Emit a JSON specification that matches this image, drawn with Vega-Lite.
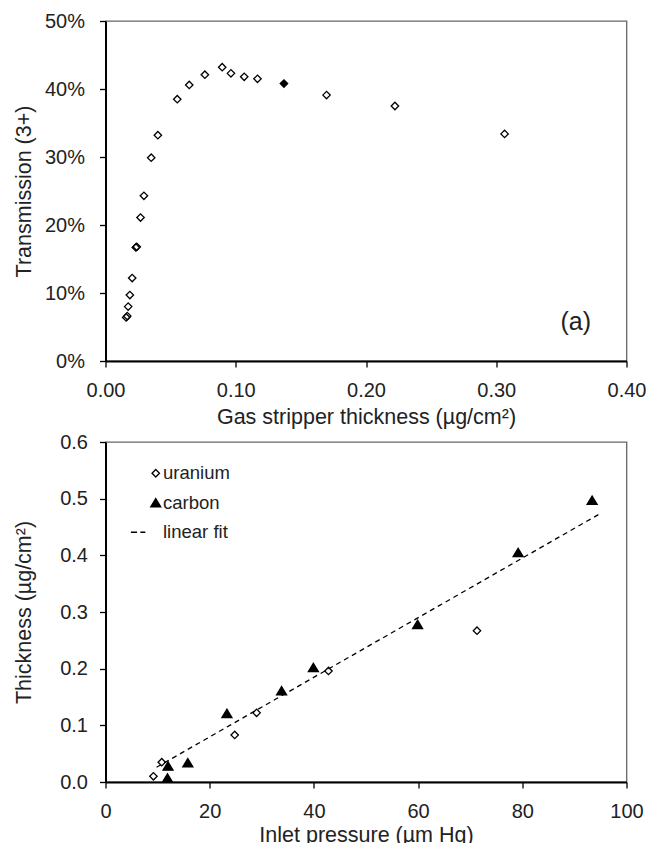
{
  "$schema": "https://vega.github.io/schema/vega-lite/v6.json",
  "padding": {"left": 12.5, "top": 10, "right": 0, "bottom": 0},
  "spacing": 2,
  "config": {
    "font": "Liberation Sans",
    "view": {"stroke": "#666", "strokeWidth": 1.3},
    "axis": {
      "grid": false,
      "domainColor": "black",
      "domainWidth": 2,
      "tickColor": "black",
      "tickWidth": 1.3,
      "tickSize": 6,
      "labelFont": "Liberation Sans",
      "labelFontSize": 20,
      "labelColor": "#222",
      "labelPadding": 12,
      "titleFont": "Liberation Sans",
      "titleFontSize": 21.5,
      "titleFontWeight": "normal",
      "titleColor": "#222"
    },
    "axisX": {"labelPadding": 13, "titlePadding": 6, "labelFlush": false}
  },
  "vconcat": [
    {
      "width": 521,
      "height": 340,
      "layer": [
        {
          "data": {
            "values": [
              {"thickness": 0.0159, "transmission": 0.064, "marker": "open"},
              {"thickness": 0.0167, "transmission": 0.066, "marker": "open"},
              {"thickness": 0.0174, "transmission": 0.080, "marker": "open"},
              {"thickness": 0.0187, "transmission": 0.097, "marker": "open"},
              {"thickness": 0.0205, "transmission": 0.122, "marker": "open"},
              {"thickness": 0.0233, "transmission": 0.167, "marker": "open"},
              {"thickness": 0.0240, "transmission": 0.168, "marker": "open"},
              {"thickness": 0.0269, "transmission": 0.211, "marker": "open"},
              {"thickness": 0.0295, "transmission": 0.243, "marker": "open"},
              {"thickness": 0.0351, "transmission": 0.299, "marker": "open"},
              {"thickness": 0.0402, "transmission": 0.332, "marker": "open"},
              {"thickness": 0.0551, "transmission": 0.385, "marker": "open"},
              {"thickness": 0.0643, "transmission": 0.406, "marker": "open"},
              {"thickness": 0.0763, "transmission": 0.421, "marker": "open"},
              {"thickness": 0.0896, "transmission": 0.432, "marker": "open"},
              {"thickness": 0.0963, "transmission": 0.423, "marker": "open"},
              {"thickness": 0.1065, "transmission": 0.418, "marker": "open"},
              {"thickness": 0.1167, "transmission": 0.415, "marker": "open"},
              {"thickness": 0.137, "transmission": 0.408, "marker": "filled"},
              {"thickness": 0.1697, "transmission": 0.391, "marker": "open"},
              {"thickness": 0.2222, "transmission": 0.375, "marker": "open"},
              {"thickness": 0.3064, "transmission": 0.334, "marker": "open"}
            ]
          },
          "mark": {"type": "point", "shape": "diamond", "size": 55, "filled": true, "stroke": "black", "strokeWidth": 1.3, "opacity": 1},
          "encoding": {
            "x": {
              "field": "thickness", "type": "quantitative",
              "scale": {"domain": [0, 0.4], "nice": false, "zero": false},
              "axis": {"values": [0, 0.1, 0.2, 0.3, 0.4], "format": ".2f", "title": "Gas stripper thickness (µg/cm²)"}
            },
            "y": {
              "field": "transmission", "type": "quantitative",
              "scale": {"domain": [0, 0.5], "nice": false, "zero": false},
              "axis": {"values": [0, 0.1, 0.2, 0.3, 0.4, 0.5], "format": ".0%", "title": "Transmission (3+)", "labelPadding": 15, "titlePadding": 9}
            },
            "fill": {
              "field": "marker", "type": "nominal",
              "scale": {"domain": ["open", "filled"], "range": ["transparent", "black"]},
              "legend": null
            }
          }
        },
        {
          "data": {"values": [{"label": "(a)"}]},
          "mark": {"type": "text", "fontSize": 25, "align": "center", "baseline": "middle", "color": "#222", "font": "Liberation Sans"},
          "encoding": {
            "x": {"datum": 0.361, "type": "quantitative"},
            "y": {"datum": 0.057, "type": "quantitative"},
            "text": {"field": "label"}
          }
        }
      ]
    },
    {
      "width": 521,
      "height": 340,
      "data": {
        "values": [
          {"pressure": 9.2, "thickness": 0.010, "series": "uranium"},
          {"pressure": 10.8, "thickness": 0.035, "series": "uranium"},
          {"pressure": 24.8, "thickness": 0.083, "series": "uranium"},
          {"pressure": 29.0, "thickness": 0.122, "series": "uranium"},
          {"pressure": 42.8, "thickness": 0.196, "series": "uranium"},
          {"pressure": 71.3, "thickness": 0.267, "series": "uranium"},
          {"pressure": 11.9, "thickness": 0.007, "series": "carbon"},
          {"pressure": 12.0, "thickness": 0.028, "series": "carbon"},
          {"pressure": 15.8, "thickness": 0.034, "series": "carbon"},
          {"pressure": 23.3, "thickness": 0.121, "series": "carbon"},
          {"pressure": 33.8, "thickness": 0.161, "series": "carbon"},
          {"pressure": 39.9, "thickness": 0.202, "series": "carbon"},
          {"pressure": 59.9, "thickness": 0.278, "series": "carbon"},
          {"pressure": 79.2, "thickness": 0.405, "series": "carbon"},
          {"pressure": 93.4, "thickness": 0.497, "series": "carbon"},
          {"pressure": 9.8, "thickness": 0.026, "series": "linear fit"},
          {"pressure": 95.2, "thickness": 0.475, "series": "linear fit"}
        ]
      },
      "encoding": {
        "x": {
          "field": "pressure", "type": "quantitative",
          "scale": {"domain": [0, 100], "nice": false, "zero": false},
          "axis": {"values": [0, 20, 40, 60, 80, 100], "format": "d", "title": "Inlet pressure (µm Hg)", "titlePadding": 3}
        },
        "y": {
          "field": "thickness", "type": "quantitative",
          "scale": {"domain": [0, 0.6], "nice": false, "zero": false},
          "axis": {"values": [0, 0.1, 0.2, 0.3, 0.4, 0.5, 0.6], "format": ".1f", "title": "Thickness (µg/cm²)", "titlePadding": 24}
        }
      },
      "layer": [
        {
          "transform": [{"filter": "datum.series === 'linear fit'"}],
          "mark": {"type": "line", "strokeDash": [5, 4], "color": "black", "strokeWidth": 1.3},
          "encoding": {}
        },
        {
          "transform": [{"filter": "datum.series !== 'linear fit'"}],
          "mark": {"type": "point", "filled": true, "stroke": "black", "strokeWidth": 1.3, "size": 55, "opacity": 1},
          "encoding": {
            "shape": {
              "field": "series", "type": "nominal",
              "scale": {"domain": ["uranium", "carbon", "linear fit"], "range": ["diamond", "M0,-1.15L1.35,1.1L-1.35,1.1ZM-0.18,-0.85H0.18M-0.36,-0.55H0.36M-0.54,-0.25H0.54M-0.72,0.05H0.72M-0.9,0.35H0.9M-1.08,0.65H1.08M-1.26,0.95H1.26", "M-6.7,0H-5.05M-4.15,0H-2.8"]},
              "legend": {
                "title": null, "orient": "none", "legendX": 41, "legendY": 443, "padding": 0,
                "labelFontSize": 18.5, "labelOffset": -2, "rowPadding": 10.5, "symbolSize": 55,
                "symbolFillColor": "transparent", "symbolStrokeColor": "black", "symbolStrokeWidth": 1.3, "symbolOpacity": 1,
                "labelColor": "#222", "labelFont": "Liberation Sans"
              }
            },
            "fill": {
              "field": "series", "type": "nominal",
              "scale": {"domain": ["uranium", "carbon", "linear fit"], "range": ["transparent", "black", "transparent"]},
              "legend": {
                "title": null, "orient": "none", "legendX": 41, "legendY": 443, "padding": 0,
                "labelFontSize": 18.5, "labelOffset": -2, "rowPadding": 10.5, "symbolSize": 55,
                "symbolFillColor": "transparent", "symbolStrokeColor": "black", "symbolStrokeWidth": 1.3, "symbolOpacity": 1,
                "labelColor": "#222", "labelFont": "Liberation Sans"
              }
            }
          }
        },
        {
          "data": {"values": [{"label": "(b)"}]},
          "mark": {"type": "text", "fontSize": 25, "align": "center", "baseline": "middle", "color": "#222", "font": "Liberation Sans"},
          "encoding": {
            "x": {"datum": 92.1, "type": "quantitative"},
            "y": {"datum": 0.063, "type": "quantitative"},
            "text": {"field": "label"}
          }
        }
      ]
    }
  ]
}
